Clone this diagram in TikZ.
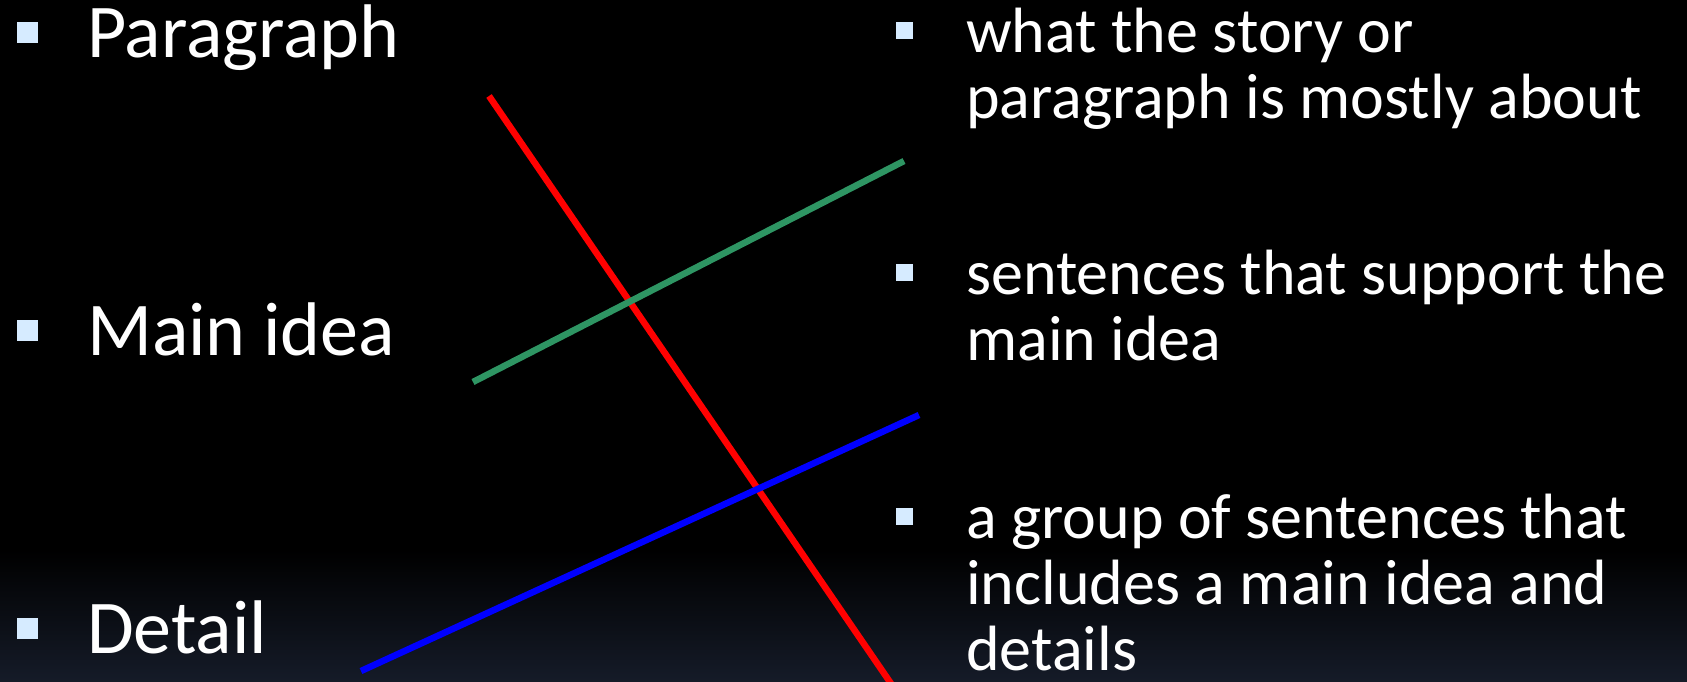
\documentclass[tikz,border=0pt]{standalone}
\usepackage{fontspec}
\setmainfont{Carlito}
\definecolor{bul}{HTML}{D6EBFF}
\definecolor{bgbot}{HTML}{151B28}
\definecolor{lgreen}{HTML}{2E9563}
\newcommand{\twolines}[1]{\vtop{\baselineskip=66pt\lineskiplimit=-100pt #1}}
\begin{document}
\begin{tikzpicture}[x=1pt,y=-1pt,
  bigtxt/.style={anchor=base west, inner sep=0pt, text=white, font=\fontsize{76}{90}\selectfont},
  smalltxt/.style={anchor=base west, inner sep=0pt, text=white, font=\fontsize{64}{66}\selectfont},
  bigbul/.style={fill=bul, draw=none},
  line/.style={line width=6.5pt, line cap=butt}]
\useasboundingbox (0,0) rectangle (1687,681);
\fill[black] (0,0) rectangle (1687,552);
\shade[top color=black, bottom color=bgbot] (0,550) rectangle (1687,681);
% left items
\fill[bigbul] (17,22) rectangle (38,43);
\node[bigtxt] (para) at (87,57) {Paragraph};
\fill[bigbul] (17,320) rectangle (38,341);
\node[bigtxt] (main) at (87,355) {Main idea};
\fill[bigbul] (17,618) rectangle (38,639);
\node[bigtxt] (det) at (87,653) {Detail};
% right items
\fill[bigbul] (896,22) rectangle (913,39);
\node[smalltxt] (d1) at (966,52) {\twolines{\hbox{what the story or}\hbox{paragraph is mostly about}}};
\fill[bigbul] (896,264) rectangle (913,281);
\node[smalltxt] (d2) at (966,294) {\twolines{\hbox{sentences that support the}\hbox{main idea}}};
\fill[bigbul] (896,508) rectangle (913,525);
\node[smalltxt] (d3) at (966,538) {\twolines{\hbox{a group of sentences that}\hbox{includes a main idea and}\hbox{details}}};
% connectors
\coordinate (r1) at (489,96);
\coordinate (r2) at (892,685);
\coordinate (g1) at (473,382);
\coordinate (g2) at (904,161);
\coordinate (b1) at (361,671);
\coordinate (b2) at (919,415);
\begin{scope}
\clip (0,0) rectangle (1687,681);
\draw[line, red] (r1) -- (r2);
\end{scope}
\draw[line, lgreen] (g1) -- (g2);
\draw[line, blue] (b1) -- (b2);
\end{tikzpicture}
\end{document}
